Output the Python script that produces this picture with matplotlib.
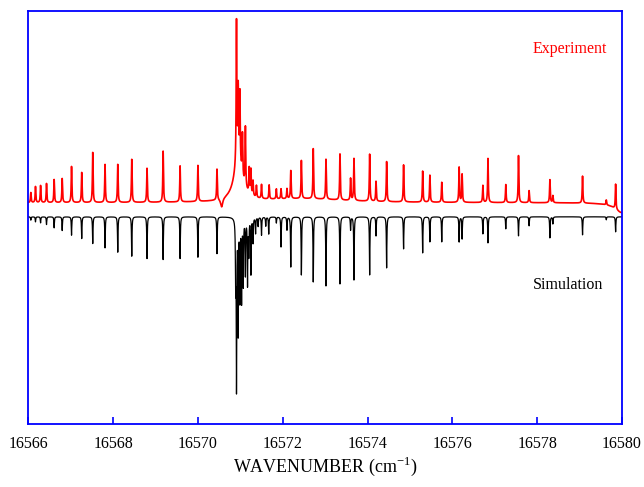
import matplotlib
matplotlib.use("Agg")
import matplotlib.pyplot as plt
import numpy as np

# Line list (wavenumber in cm-1, intensity in arbitrary units)
sim_pos = [16566.06, 16566.17, 16566.29, 16566.43, 16566.61, 16566.80, 16567.02, 16567.26,
           16567.52, 16567.81, 16568.11, 16568.44, 16568.80, 16569.18, 16569.58, 16570.00,
           16570.45, 16570.89, 16570.91, 16570.95, 16570.99, 16571.03, 16571.07, 16571.12,
           16571.17, 16571.20, 16571.25, 16571.30, 16571.36, 16571.42, 16571.50, 16571.60,
           16571.67, 16571.85, 16571.96, 16572.10, 16572.19, 16572.44, 16572.72, 16573.02,
           16573.35, 16573.60, 16573.68, 16574.05, 16574.20, 16574.45, 16574.85, 16575.30,
           16575.47, 16575.75, 16576.16, 16576.23, 16576.72, 16576.84, 16577.26, 16577.56,
           16577.81, 16578.30, 16578.37, 16579.07, 16579.63, 16579.85]
sim_int = [3.3, 5, 6, 7.7, 11, 13.7, 18.3, 21.7,
           26.7, 31, 35.3, 39.3, 41.7, 42.7, 41.7, 40.3,
           36.7, 60, 166, 112, 80, 82, 66, 56,
           66, 36, 56, 25, 16, 9, 18, 9,
           17, 6, 30, 13, 50, 58, 65, 69,
           67, 13, 63, 58, 19, 51, 32, 36,
           25, 25, 25, 22, 17, 26, 12, 19,
           9, 21, 7, 18, 3, 15]

exp_pos = [16566.06, 16566.17, 16566.29, 16566.43, 16566.61, 16566.80, 16567.02, 16567.26,
           16567.52, 16567.81, 16568.11, 16568.44, 16568.80, 16569.18, 16569.58, 16570.00,
           16570.45, 16570.91, 16570.95, 16570.99, 16571.05, 16571.12, 16571.21, 16571.25,
           16571.30, 16571.38, 16571.50, 16571.68, 16571.85, 16571.96, 16572.10, 16572.19,
           16572.44, 16572.72, 16573.02, 16573.35, 16573.60, 16573.68, 16574.05, 16574.20,
           16574.45, 16574.85, 16575.30, 16575.47, 16575.75, 16576.16, 16576.23, 16576.72,
           16576.84, 16577.26, 16577.56, 16577.81, 16578.30, 16578.37, 16579.07, 16579.63,
           16579.85]
exp_int = [10, 16, 17, 19, 23, 24, 36, 30,
           50, 38, 38, 43, 34, 51, 36, 36,
           31, 142, 70, 70, 42, 60, 25, 25,
           15, 12, 14, 14, 10, 10, 10, 28,
           38, 50, 40, 46, 22, 42, 47, 20,
           40, 37, 31, 27, 20, 35, 28, 17,
           44, 18, 47, 12, 23, 7, 27, 5,
           25]

# broad features of the experimental baseline: centre, height, half width
broad_pos = [16570.95, 16570.56, 16572.5, 16580.0]
broad_int = [40, -9, 4, -10]
broad_wid = [0.12, 0.03, 1.2, 0.2]

exp_offset = 14


def lorentz_sum(x, centres, heights, hwhm):
    y = np.zeros_like(x)
    for c, h, g in zip(centres, heights, np.broadcast_to(hwhm, len(centres))):
        y += h / (1.0 + ((x - c) / g) ** 2)
    return y


wn = np.linspace(16566, 16580, 14001)
sim = -lorentz_sum(wn, sim_pos, sim_int, 0.007)
exp = exp_offset + lorentz_sum(wn, exp_pos, exp_int, 0.009) + lorentz_sum(wn, broad_pos, broad_int, broad_wid)

plt.rcParams['font.family'] = ['Liberation Serif', 'DejaVu Serif']
plt.rcParams['mathtext.fontset'] = 'custom'
plt.rcParams['mathtext.rm'] = 'Liberation Serif'
plt.rcParams['axes.unicode_minus'] = False

fig = plt.figure(figsize=(6.44, 4.87), dpi=100)
ax = fig.add_axes([0.0439, 0.1294, 0.9219, 0.8487])

ax.plot(wn, exp, color='#ff0000', lw=1.2)
ax.plot(wn, sim, color='black', lw=0.9)

ax.set_xlim(16566, 16580)
ax.set_ylim(-207, 206)
ax.set_xticks(np.arange(16566, 16581, 2))
ax.set_yticks([])

for s in ax.spines.values():
    s.set_color('#0000ff')
    s.set_linewidth(1.3)
ax.tick_params(axis='x', direction='in', length=5, width=1.2, color='#0000ff',
               labelsize=11.5, pad=9)

ax.set_xlabel(r'WAVENUMBER (cm$^{\mathregular{-1}}$)', fontsize=13, labelpad=2)

ax.text(16578.77, 168, 'Experiment', color='#ff0000', fontsize=11.5, ha='center', va='center')
ax.text(16578.72, -68, 'Simulation', color='black', fontsize=11.5, ha='center', va='center')

fig.savefig('out.png', dpi=100)
plt.close(fig)
